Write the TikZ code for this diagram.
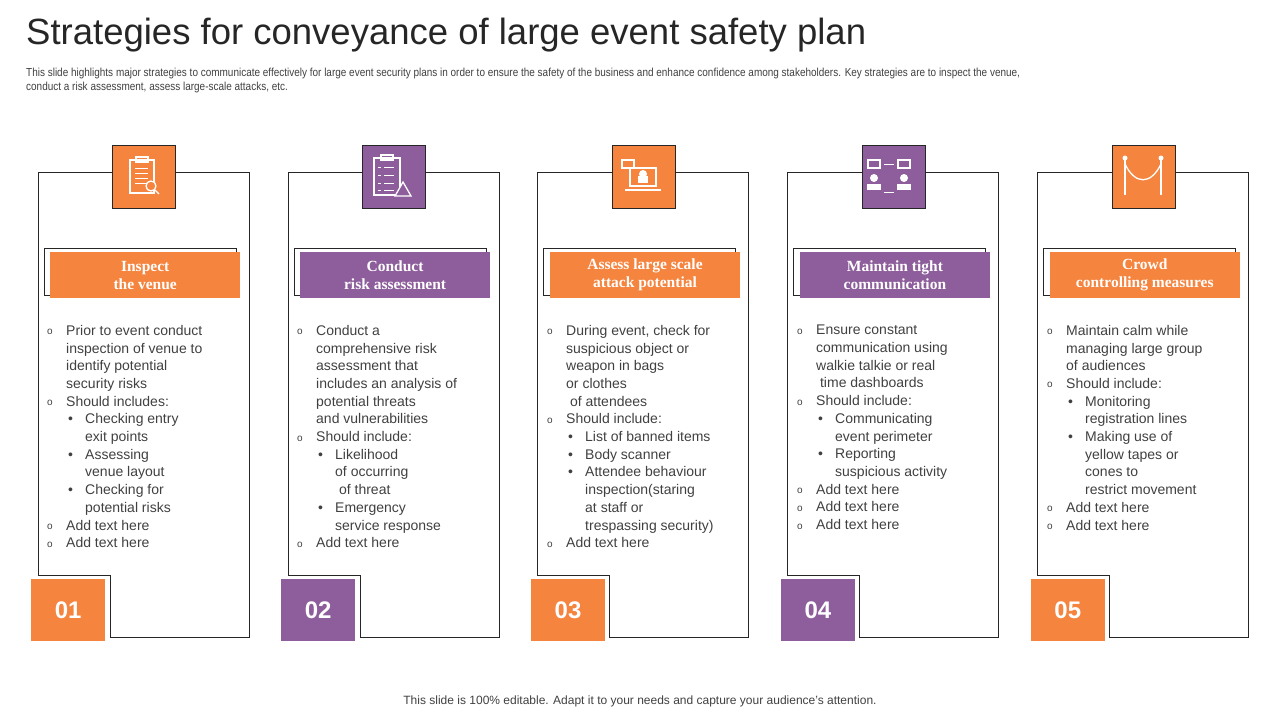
\documentclass[tikz,border=0pt]{standalone}
\usepackage{fontspec}
\setmainfont{Liberation Sans}
\newfontfamily\headfont{Liberation Serif}
\usetikzlibrary{positioning}
\definecolor{evorange}{HTML}{F5843E}
\definecolor{evpurple}{HTML}{8D5E9B}
\definecolor{evtext}{HTML}{404040}
\tikzset{
  cardline/.style={draw=black!85, line width=0.8pt},
  iconbox/.style={draw=black!85, line width=0.6pt, minimum width=63pt, minimum height=63pt, anchor=north west, inner sep=0pt},
  headbar/.style={minimum width=190pt, minimum height=46pt, anchor=north west, text=white, font=\headfont\bfseries\fontsize{15.5}{18}\selectfont, align=center, inner sep=0pt},
  numbox/.style={minimum width=74pt, minimum height=62pt, anchor=north west, text=white, font=\bfseries\fontsize{24}{24}\selectfont, inner sep=0pt},
  bodytext/.style={anchor=north west, align=left, text=evtext, font=\fontsize{14}{17.7}\selectfont, inner sep=0pt},
  glyph/.style={draw=white, line width=1.3pt}
}
\newcommand{\oi}[1]{\makebox[19pt][l]{\raisebox{0.5pt}{\fontsize{10}{10}\selectfont o}}#1}
\newcommand{\oc}[1]{\hspace*{19pt}#1}
\newcommand{\bi}[1]{\hspace*{19pt}\makebox[19pt][l]{\hspace*{2pt}•}#1}
\newcommand{\bc}[1]{\hspace*{38pt}#1}
\begin{document}
\begin{tikzpicture}[x=1pt,y=-1pt]
\useasboundingbox (0,0) rectangle (1280,720);
\node[anchor=west, inner sep=0pt, font=\fontsize{36.5}{36.5}\selectfont, text=black!85] (title) at (26,35) {Strategies for conveyance of large event safety plan};
\node[anchor=north west, inner sep=0pt, align=left, font=\fontsize{11.6}{13.5}\selectfont, text=evtext] (sub) at (26,68) {\addfontfeatures{FakeStretch=0.86}This slide highlights major strategies to communicate effectively for large event security plans in order to ensure the safety of the business and enhance confidence among stakeholders. Key strategies are to inspect the venue,\\\addfontfeatures{FakeStretch=0.86}conduct a risk assessment, assess large-scale attacks, etc.};
\node[font=\fontsize{12}{12}\selectfont, text=evtext] (foot) at (640,701) {This slide is 100\% editable. Adapt it to your needs and capture your audience’s attention.};

% cards
\foreach \i/\col/\head/\num in {0/evorange/{Inspect\\the venue}/01, 1/evpurple/{Conduct\\risk assessment}/02, 2/evorange/{Assess large scale\\attack potential}/03, 3/evpurple/{Maintain tight\\communication}/04, 4/evorange/{Crowd\\controlling measures}/05}{
  \begin{scope}[xshift=\i*249.9]
    \draw[cardline] (110,575) -- (38,575) -- (38,172) -- (249,172) -- (249,637) -- (110,637) -- cycle;
    \node[iconbox, fill=\col] (icon\num) at (112,145) {};
    \draw[black!85, line width=0.8pt] (44,248) rectangle (236,295);
    \node[headbar, fill=\col] (head\num) at (50,252) {\head};
    \node[numbox, fill=\col] (num\num) at (31,579) {\num};
  \end{scope}
}

% bodies
\node[bodytext] (body01) at (47,325) {\oi{Prior to event conduct}\\\oc{inspection of venue to}\\\oc{identify potential}\\\oc{security risks}\\\oi{Should includes:}\\\bi{Checking entry}\\\bc{exit points}\\\bi{Assessing}\\\bc{venue layout}\\\bi{Checking for}\\\bc{potential risks}\\\oi{Add text here}\\\oi{Add text here}};
\node[bodytext] (body02) at (297,325) {\oi{Conduct a}\\\oc{comprehensive risk}\\\oc{assessment that}\\\oc{includes an analysis of}\\\oc{potential threats}\\\oc{and vulnerabilities}\\\oi{Should include:}\\\bi{Likelihood}\\\bc{of occurring}\\\bc{\ of threat}\\\bi{Emergency}\\\bc{service response}\\\oi{Add text here}};
\node[bodytext] (body03) at (547,325) {\oi{During event, check for}\\\oc{suspicious object or}\\\oc{weapon in bags}\\\oc{or clothes}\\\oc{\ of attendees}\\\oi{Should include:}\\\bi{List of banned items}\\\bi{Body scanner}\\\bi{Attendee behaviour}\\\bc{inspection(staring}\\\bc{at staff or}\\\bc{trespassing security)}\\\oi{Add text here}};
\node[bodytext] (body04) at (797,325) {\oi{Ensure constant}\\\oc{communication using}\\\oc{walkie talkie or real}\\\oc{\ time dashboards}\\\oi{Should include:}\\\bi{Communicating}\\\bc{event perimeter}\\\bi{Reporting}\\\bc{suspicious activity}\\\oi{Add text here}\\\oi{Add text here}\\\oi{Add text here}};
\node[bodytext] (body05) at (1047,325) {\oi{Maintain calm while}\\\oc{managing large group}\\\oc{of audiences}\\\oi{Should include:}\\\bi{Monitoring}\\\bc{registration lines}\\\bi{Making use of}\\\bc{yellow tapes or}\\\bc{cones to}\\\bc{restrict movement}\\\oi{Add text here}\\\oi{Add text here}};

% icon glyphs
\draw[glyph] (130,160) rectangle (154,193);
\draw[glyph] (136,157) rectangle (148,162);
\foreach \yy in {168,173,178,183} \draw[glyph, line width=1pt] (135,\yy) -- (148,\yy);
\draw[glyph, fill=evorange] (151,186) circle (5);
\draw[glyph] (155,190) -- (159,194);
\draw[glyph] (374,158) rectangle (400,195);
\draw[glyph] (381,155) rectangle (393,160);
\foreach \yy in {167,175,183,190} {\draw[glyph, line width=1pt] (378,\yy) -- (381,\yy); \draw[glyph, line width=1pt] (384,\yy) -- (394,\yy);}
\draw[glyph, fill=evpurple] (403,182) -- (411,196) -- (395,196) -- cycle;
\draw[glyph] (630,168) rectangle (656,186);
\draw[glyph] (625,190) -- (661,190);
\draw[glyph] (622,160) rectangle (634,168);
\fill[white] (638,176) rectangle (648,183);
\fill[white] (643,174) circle (4);
\foreach \xx in {874,904} {\fill[white] (\xx,178) circle (4); \fill[white] (\xx-7,190) rectangle (\xx+7,184);}
\draw[glyph] (868,160) rectangle (880,168);
\draw[glyph] (898,160) rectangle (910,168);
\draw[glyph, line width=1pt] (884,164) -- (894,164);
\draw[glyph, line width=1pt] (884,192) -- (894,192);
\draw[glyph] (1125,160) -- (1125,195);
\draw[glyph] (1161,160) -- (1161,195);
\draw[glyph] (1125,164) .. controls (1135,185) and (1151,185) .. (1161,164);
\fill[white] (1125,158) circle (2.5);
\fill[white] (1161,158) circle (2.5);
\end{tikzpicture}
\end{document}
